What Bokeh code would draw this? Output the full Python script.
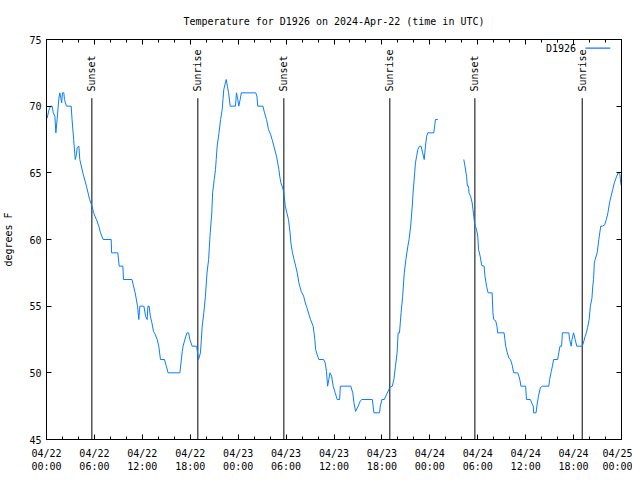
import math
from bokeh.plotting import figure
from bokeh.models import Range1d, FixedTicker, LinearAxis, Label, CustomLabelingPolicy
from bokeh.embed import file_html
from bokeh.resources import INLINE
from bokeh.core.properties import value

# ---------------- data ----------------
seg1_hours = [0.08, 0.3, 0.5, 0.7, 0.85, 1.05, 1.17, 1.33, 1.55, 1.67, 1.8, 1.9, 2.0, 2.17, 2.25, 2.5,
              3.09, 3.2, 3.4, 3.6, 3.76, 3.84, 4.05, 4.17, 4.55, 5.0, 5.4, 5.7, 5.9, 6.25, 6.55, 6.76,
              7.1, 8.1, 8.15, 8.93, 9.1, 9.56, 9.64, 10.7, 11.1, 11.4, 11.56, 11.69, 12.2, 12.4, 12.6,
              12.7, 12.85, 13.0, 13.2, 13.4, 13.6, 13.86, 14.06, 14.27, 14.77, 15.0, 15.23, 16.7, 17.0,
              17.1, 17.45, 17.6, 17.8, 17.95, 18.24, 18.8, 19.03, 19.28, 19.5, 19.7, 19.9, 20.1, 20.3,
              20.45, 20.5, 20.7, 20.8, 21.0, 21.16, 21.25, 21.37, 21.6, 21.8, 22.0, 22.1, 22.2, 22.4,
              22.5, 22.65, 22.8, 23.0, 23.66, 23.79, 23.95, 24.08, 24.25, 24.4, 26.2, 26.35, 26.45,
              27.1, 27.3, 27.55, 27.8, 28.05, 28.25, 28.47, 28.8, 29.1, 29.2, 29.35, 29.5, 29.7, 29.9,
              30.1, 30.3, 30.5, 30.6, 30.8, 31.0, 31.2, 31.4, 31.6, 31.9, 32.2, 32.4, 32.6, 32.85,
              33.06, 33.39, 33.5, 33.6, 33.7, 33.95, 34.1, 34.7, 34.9, 35.06, 35.2, 35.35, 35.5, 35.7,
              35.9, 36.15, 36.4, 36.7, 36.8, 38.1, 38.35, 38.5, 38.7, 39.1, 39.3, 39.5, 40.8, 40.9,
              41.0, 41.7, 41.8, 42.0, 42.3, 42.6, 42.75, 42.99, 43.3, 43.5, 43.7, 43.9, 44.03, 44.2,
              44.4, 44.6, 44.8, 45.0, 45.25, 45.4, 45.6, 45.8, 45.9, 46.0, 46.2, 46.35, 46.5, 46.7,
              46.9, 47.1, 47.3, 47.45, 47.6, 47.75, 48.5, 48.6, 48.7, 49.0]
seg1_temps = [69.1, 69.7, 70, 70, 69.5, 69.25, 68, 69, 70.6, 71, 70.6, 70.25, 71, 71, 70.5, 70,
              70, 69, 67.5, 66, 66.4, 66.9, 67, 66, 65, 64, 63, 62.5, 62, 61.5, 61, 60.5,
              60, 60, 59, 59, 58, 58, 57, 57, 56, 55, 54, 55, 55, 54.25, 54,
              55, 55, 54.25, 53.75, 53.1, 52.9, 52.5, 52, 51, 51, 50.5, 50, 50, 51.6,
              52, 52.75, 53, 53, 52.5, 52, 52, 51, 51.5, 53.5, 54.5, 55.75, 57.5, 58.5,
              60, 60.5, 62, 63.5, 64.5, 65.25, 66, 67, 68, 69, 69.75, 70.5, 71.25, 71.75,
              72, 71.5, 71, 70, 70, 71, 70.5, 70, 70.5, 71, 71, 70.75, 70,
              70, 69.5, 69, 68.25, 67.9, 67.5, 67, 66.25, 65.25, 64.75, 64.25, 64, 63.6, 62.5,
              62, 61.5, 60.5, 59.75, 59, 58.5, 58, 57.5, 56.75, 56.1, 55.75, 55.25, 54.9, 54.4,
              54, 53.5, 53, 52.5, 51.75, 51.25, 51, 51, 50.75, 50.1, 49, 49.5, 50, 49.75,
              49, 48.5, 48, 48, 49, 49, 48.5, 47.75, 47.1, 47.6, 47.9, 48, 48, 47.5,
              47, 47, 47.5, 48, 48, 48.4, 48.6, 48.9, 49, 49.5, 50.5, 51.5, 53, 53,
              54.5, 55.75, 57.5, 58.5, 59.5, 60, 61, 62.5, 63.5, 64.25, 65.75, 66.25, 66.75, 67,
              67, 66.5, 66, 67, 67.75, 68, 68, 68.5, 69, 69]

seg2_hours = [52.25, 52.4, 52.6, 52.7, 52.85, 52.9, 53.1, 53.3, 53.4, 53.5, 53.6, 53.7, 53.85, 54.0,
              54.1, 54.3, 54.5, 54.8, 54.9, 55.1, 55.3, 55.8, 55.9, 56.0, 56.25, 56.4, 56.5, 57.3,
              57.4, 57.5, 57.7, 57.9, 58.1, 58.3, 58.5, 59.0, 59.15, 59.3, 59.4, 60.0, 60.1, 60.6,
              60.75, 60.95, 61.0, 61.3, 61.4, 61.6, 61.85, 62.1, 62.9, 63.0, 63.2, 63.35, 63.5, 64.0,
              64.15, 64.3, 64.5, 64.55, 64.6, 65.4, 65.5, 65.7, 65.8, 66.0, 66.2, 66.4, 67.1, 67.3,
              67.45, 67.6, 67.75, 67.95, 68.1, 68.3, 68.4, 68.5, 68.6, 68.7, 68.95, 69.16, 69.4,
              69.6, 69.9, 70.1, 70.3, 70.5, 70.7, 70.9, 71.1, 71.4, 71.6, 71.8, 71.9, 72.0]
seg2_temps = [66, 65.5, 64.75, 64, 64, 63.5, 63.25, 62.75, 62.25, 61.75, 61.25, 61, 60.75, 60.25,
              59.25, 58.75, 58.05, 58, 57.25, 56.5, 56, 56, 54.5, 54, 53.9, 53.5, 53, 53,
              52.5, 52, 51.5, 51.1, 51, 50.6, 50, 50, 49.75, 49.4, 49, 49, 48, 48,
              47.75, 47.5, 47, 47, 47.5, 48.25, 48.9, 49, 49, 49.5, 50.1, 50.5, 51, 51,
              51.5, 52, 52, 52.5, 53, 53, 52.5, 52, 52.5, 53, 52.5, 52, 52, 52.4,
              52.75, 53, 53.4, 54, 55, 55.6, 56.5, 57, 58.25, 58.5, 59, 60, 61,
              61, 61.1, 61.5, 62, 62.75, 63.25, 63.75, 64.25, 64.75, 65, 64.9, 64.25, 64]

event_hours = [5.68, 18.95, 29.72, 42.99, 53.64, 67.08]
event_names = ["Sunset", "Sunrise", "Sunset", "Sunrise", "Sunset", "Sunrise"]

x_major_ticks = [0, 6, 12, 18, 24, 30, 36, 42, 48, 54, 60, 66, 72]
x_minor_ticks = list(range(0, 73, 2))
x_tick_labels = ["04/22\n00:00", "04/22\n06:00", "04/22\n12:00", "04/22\n18:00",
                 "04/23\n00:00", "04/23\n06:00", "04/23\n12:00", "04/23\n18:00",
                 "04/24\n00:00", "04/24\n06:00", "04/24\n12:00", "04/24\n18:00",
                 "04/25\n00:00"]
y_ticks = [45, 50, 55, 60, 65, 70, 75]

series_name = "D1926"
title_text = "Temperature for D1926 on 2024-Apr-22 (time in UTC)"

# ---------------- style ----------------
FONT = "DejaVu Sans Mono"
FS = "10px"
LINE_COLOR = "#0a7cff"
EVENT_LINE_TOP = 70.6
EVENT_TEXT_Y = 71.1
LEGEND_Y = 74.36
LEGEND_TEXT_X = 66.3
LEGEND_SAMPLE_X = (67.5, 70.6)

p = figure(frame_width=575, frame_height=400,
           x_range=Range1d(0, 72), y_range=Range1d(45, 75),
           output_backend="svg", toolbar_location=None,
           min_border_left=38, min_border_right=11, min_border_top=32, min_border_bottom=32,
           x_axis_type=None, y_axis_type=None)
p.background_fill_color = "white"
p.border_fill_color = "white"
p.outline_line_color = "black"
p.outline_line_width = 1
p.xgrid.visible = False
p.ygrid.visible = False

p.title.text = title_text
p.title.align = "center"
p.title.text_font = FONT
p.title.text_font_size = FS
p.title.text_font_style = "normal"
p.title.text_color = "black"
p.title.padding = 5
p.title.standoff = 16

xt = FixedTicker(ticks=x_major_ticks, minor_ticks=x_minor_ticks)
yt = FixedTicker(ticks=y_ticks, minor_ticks=[])

no_labels = CustomLabelingPolicy(code="""
for (const i of Array.from(indices)) indices.unset(i)
return indices
""")


def style_axis(ax, show_labels):
    ax.axis_line_color = "black"
    ax.major_tick_line_color = "black"
    ax.minor_tick_line_color = "black"
    ax.major_tick_in = 5
    ax.major_tick_out = 0
    ax.minor_tick_in = 3
    ax.minor_tick_out = 0
    ax.major_label_text_font = FONT
    ax.major_label_text_font_size = FS if show_labels else "0px"
    ax.major_label_text_color = "black"
    ax.major_label_standoff = 5 if show_labels else 0
    if not show_labels:
        ax.major_label_policy = no_labels
    ax.axis_label_text_font = FONT
    ax.axis_label_text_font_size = FS
    ax.axis_label_text_font_style = "normal"
    ax.axis_label_text_color = "black"


xb = LinearAxis(ticker=xt)
style_axis(xb, True)
xb.major_label_overrides = {t: lab for t, lab in zip(x_major_ticks, x_tick_labels)}
xb.major_label_standoff = 8
xb.major_label_text_line_height = 1.25
p.add_layout(xb, "below")

xa = LinearAxis(ticker=xt)
style_axis(xa, False)
p.add_layout(xa, "above")

yl = LinearAxis(ticker=yt, axis_label="degrees F")
style_axis(yl, True)
yl.axis_label_standoff = 12
p.add_layout(yl, "left")

yr = LinearAxis(ticker=yt)
style_axis(yr, False)
p.add_layout(yr, "right")

# event lines + labels
p.segment(x0=event_hours, y0=[EVENT_LINE_TOP] * len(event_hours),
          x1=event_hours, y1=[45] * len(event_hours), line_color="black", line_width=1)
p.text(x=event_hours, y=[EVENT_TEXT_Y] * len(event_hours), text=event_names,
       angle=math.pi / 2, text_align="left", text_baseline="middle",
       text_font=value(FONT), text_font_size=FS, text_color="black")

# data
p.line(seg1_hours, seg1_temps, line_color=LINE_COLOR, line_width=1)
p.line(seg2_hours, seg2_temps, line_color=LINE_COLOR, line_width=1)

# legend (gnuplot style: label then sample)
p.add_layout(Label(x=LEGEND_TEXT_X, y=LEGEND_Y, text=series_name, text_align="right",
                   text_baseline="middle", text_font=FONT, text_font_size=FS, text_color="black"))
p.line([LEGEND_SAMPLE_X[0], LEGEND_SAMPLE_X[1]], [LEGEND_Y, LEGEND_Y],
       line_color=LINE_COLOR, line_width=1.3)

open("out.html", "w").write(file_html(p, INLINE))
